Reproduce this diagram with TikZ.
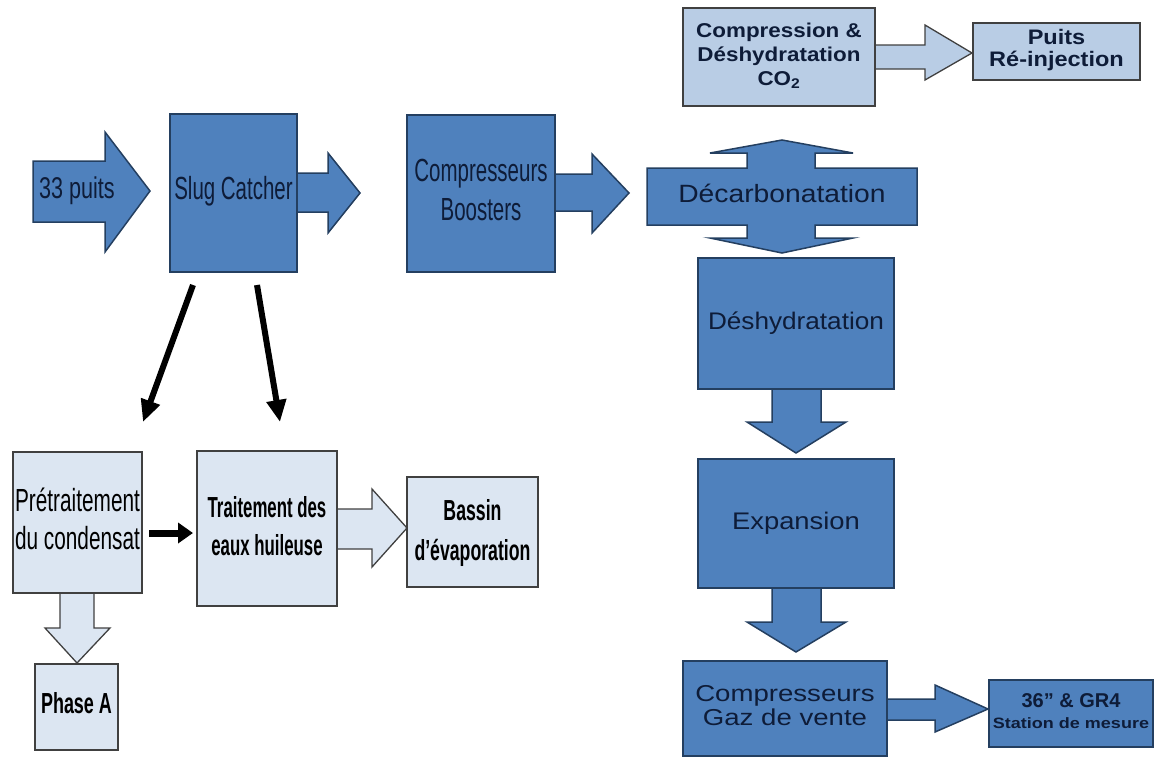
\documentclass[tikz,border=0pt]{standalone}
\usepackage{fontspec}
\setmainfont{Liberation Sans}
\usepackage{graphicx}
\usetikzlibrary{arrows.meta}
\definecolor{dblue}{RGB}{79,129,189}
\definecolor{dborder}{RGB}{36,63,96}
\definecolor{lfill}{RGB}{220,230,242}
\definecolor{lfilltwo}{RGB}{185,205,229}
\definecolor{lborder}{RGB}{64,64,64}
\definecolor{txtd}{RGB}{14,28,56}
\newcommand\tx[4]{\scalebox{#1}[1]{\fontsize{#2pt}{#3pt}\selectfont\begin{tabular}{@{}c@{}}#4\end{tabular}}}
\tikzset{
  dbox/.style={draw=dborder, fill=dblue, line width=1.5pt, inner sep=0pt, outer sep=0pt, text=txtd},
  lbox/.style={draw=lborder, fill=lfill, line width=1.5pt, inner sep=0pt, outer sep=0pt, text=black},
  lboxtwo/.style={draw=lborder, fill=lfilltwo, line width=1.5pt, inner sep=0pt, outer sep=0pt, text=txtd},
  darr/.style={draw=dborder, fill=dblue, line width=1.5pt, line join=miter},
  larr/.style={draw=lborder, fill=lfill, line width=1.3pt, line join=miter},
  larrtwo/.style={draw=lborder, fill=lfilltwo, line width=1.3pt, line join=miter},
  blk/.style={draw=black, line width=6pt, -{Triangle[length=22pt,width=19pt]}},
  lbl/.style={inner sep=0pt, text=txtd}
}
\begin{document}
\begin{tikzpicture}[x=1pt,y=-1pt]
\useasboundingbox (0,0) rectangle (1160,756);

% ---- fat arrows (drawn first, boxes on top)
% 33 puits
\draw[darr] (33,161) -- (105,161) -- (105,132) -- (150,191) -- (105,252) -- (105,222) -- (33,222) -- cycle;
\node[lbl] (puits33) at (77,192) {\tx{0.72}{30}{32}{33 puits}};
% slug -> boosters
\draw[darr] (297,173) -- (328,173) -- (328,153) -- (360,193) -- (328,233) -- (328,212) -- (297,212);
% boosters -> decarb
\draw[darr] (555,174) -- (592,174) -- (592,154) -- (629,193) -- (592,233) -- (592,211) -- (555,211);
% desh -> exp
\draw[darr] (772,389) -- (772,422) -- (747,422) -- (796,453) -- (846,422) -- (821,422) -- (821,389);
% exp -> cgv
\draw[darr] (772,588) -- (772,622) -- (747,622) -- (796,652) -- (846,622) -- (821,622) -- (821,588);
% cgv -> station
\draw[darr] (887,699) -- (935,699) -- (935,685) -- (988,709) -- (935,732) -- (935,720) -- (887,720);
% co2 -> puits reinjection
\draw[larrtwo] (875,45) -- (925,45) -- (925,25) -- (972,53) -- (925,80) -- (925,69) -- (875,69);
% traitement -> bassin
\draw[larr] (337,509) -- (372,509) -- (372,489) -- (407,528) -- (372,567) -- (372,549) -- (337,549);
% pretraitement -> phase A
\draw[larr] (60,593) -- (60,628) -- (45,628) -- (77,663) -- (110,628) -- (94,628) -- (94,593);

% ---- decarbonatation combined shape
\draw[darr] (647,168) -- (747,168) -- (747,153) -- (710,153) -- (782,140) -- (853,153) -- (815,153) -- (815,168)
  -- (917,168) -- (917,225) -- (815,225) -- (815,238) -- (853,238) -- (782,253) -- (710,238) -- (747,238)
  -- (747,225) -- (647,225) -- cycle;
\node[lbl, minimum width=270pt, minimum height=57pt] (decarb) at (782,197) {\tx{1.13}{25}{28}{Décarbonatation}};

% ---- boxes
\node[dbox, minimum width=127pt, minimum height=158pt] (slug) at (233.5,193) {\tx{0.64}{32}{34}{Slug Catcher}};
\node[dbox, minimum width=148pt, minimum height=157pt] (boost) at (481,193.5) {\tx{0.64}{32}{39}{Compresseurs\\Boosters}};
\node[lboxtwo, minimum width=192pt, minimum height=98pt] (co2) at (779,57) {\tx{1.12}{20}{24}{\bfseries Compression \&\\\bfseries Déshydratation\\\bfseries CO\textsubscript{2}}};
\node[lboxtwo, minimum width=167pt, minimum height=57pt] (reinj) at (1056.5,51.5) {\tx{1.12}{21}{22}{\bfseries Puits\\\bfseries Ré-injection}};
\node[dbox, minimum width=196pt, minimum height=131pt] (desh) at (796,323.5) {\tx{1.09}{24}{28}{Déshydratation}};
\node[dbox, minimum width=196pt, minimum height=129pt] (exp) at (796,523.5) {\tx{1.14}{24}{28}{Expansion}};
\node[dbox, minimum width=204pt, minimum height=95pt] (cgv) at (785,708.5) {\tx{1.2}{23}{24}{Compresseurs\\Gaz de vente}};
\node[dbox, minimum width=164pt, minimum height=67pt] (station) at (1071,713.5) {\tx{1}{20}{21}{\bfseries 36'' \& GR4\\\fontsize{15pt}{20pt}\selectfont\bfseries\scalebox{1.2}[1]{Station de mesure}}};
\node[lbox, minimum width=129pt, minimum height=141pt] (pret) at (77.5,522.5) {\tx{0.65}{32}{38}{Prétraitement\\du condensat}};
\node[lbox, minimum width=83pt, minimum height=86pt] (phasea) at (76.5,707) {\tx{0.62}{29}{32}{\bfseries Phase A}};
\node[lbox, minimum width=140pt, minimum height=155pt] (trait) at (267,528.5) {\tx{0.58}{29}{38}{\bfseries Traitement des\\\bfseries eaux huileuse}};
\node[lbox, minimum width=131pt, minimum height=110pt] (bassin) at (472.5,532) {\tx{0.61}{29}{40}{\bfseries Bassin\\\bfseries d’évaporation}};

% ---- black arrows
\coordinate (s1) at (193,285);
\coordinate (e1) at (143,422);
\coordinate (s2) at (257,285);
\coordinate (e2) at (280,422);
\coordinate (s3) at (149,533);
\coordinate (e3) at (193,533);
\draw[blk] (s1) -- (e1);
\draw[blk] (s2) -- (e2);
\draw[draw=black, line width=7pt, -{Triangle[length=15pt,width=20pt]}] (s3) -- (e3);
\end{tikzpicture}
\end{document}
